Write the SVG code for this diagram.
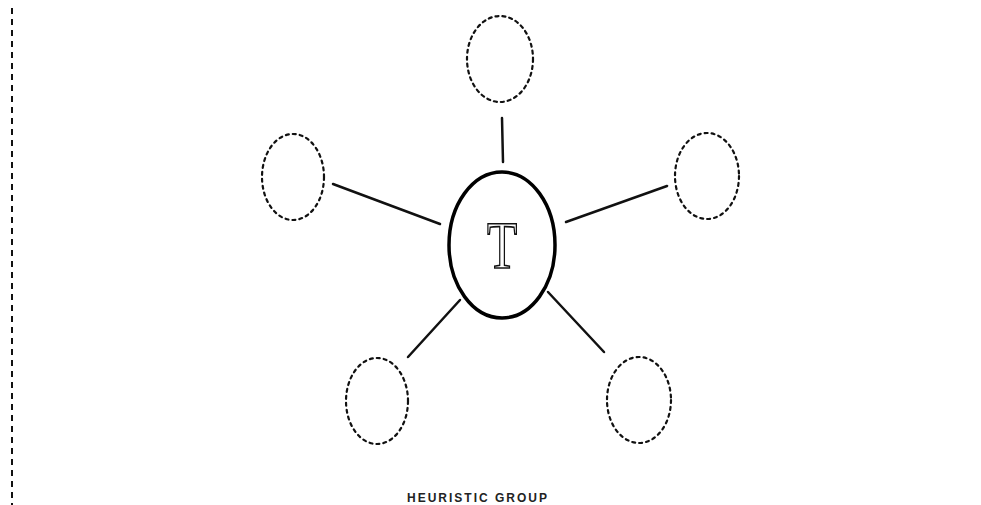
<svg xmlns="http://www.w3.org/2000/svg" width="981" height="505" viewBox="0 0 981 505">
<style>
.sat{fill:none;stroke:#111;stroke-width:2.2;stroke-dasharray:3 4;stroke-linecap:round}
.hub{fill:none;stroke:#000;stroke-width:3.5}
.con{stroke:#111;stroke-width:2.5;stroke-linecap:round}
.lbl{font-family:"Liberation Sans",Arial,sans-serif;font-size:12px;font-weight:bold;fill:#222;letter-spacing:2px}
</style>
<rect width="981" height="505" fill="#fff"/>
<line x1="12" y1="8" x2="12" y2="505" stroke="#111" stroke-width="2" stroke-dasharray="6 5"/>
<g id="connectors">
<line class="con" x1="502" y1="118" x2="503" y2="162"/>
<line class="con" x1="333" y1="184" x2="440" y2="224"/>
<line class="con" x1="566" y1="222" x2="667" y2="186"/>
<line class="con" x1="408" y1="357" x2="460" y2="300"/>
<line class="con" x1="548" y1="292" x2="604" y2="352"/>
</g>
<g id="hub">
<ellipse class="hub" cx="502" cy="245" rx="53" ry="73"/>
<text transform="translate(502,268) scale(0.95,1.3)" text-anchor="middle" font-family="Liberation Serif,serif" font-size="52" fill="#fff" stroke="#111" stroke-width="1.3" text-rendering="geometricPrecision">T</text>
</g>
<g id="n-top"><ellipse class="sat" cx="500" cy="59" rx="33" ry="43"/></g>
<g id="n-left"><ellipse class="sat" cx="293" cy="177" rx="31" ry="43"/></g>
<g id="n-right"><ellipse class="sat" cx="707" cy="176" rx="32" ry="43"/></g>
<g id="n-bl"><ellipse class="sat" cx="377" cy="401" rx="31" ry="43"/></g>
<g id="n-br"><ellipse class="sat" cx="639" cy="400" rx="32" ry="43"/></g>
<text class="lbl" x="478" y="502" text-anchor="middle">HEURISTIC GROUP</text>
</svg>
